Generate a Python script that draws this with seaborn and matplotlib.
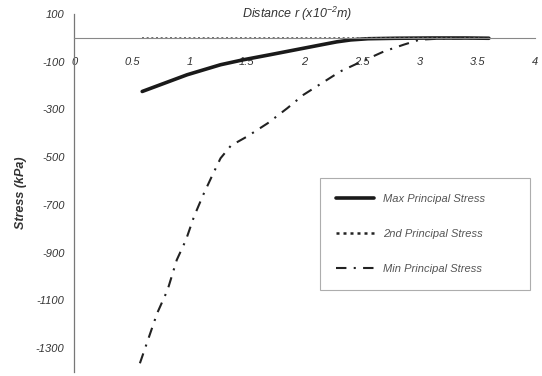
import matplotlib
matplotlib.use("Agg")
import matplotlib.pyplot as plt
import seaborn as sns
import pandas as pd

# distance r (x10^-2 m) and stresses
max_r = [0.59, 0.98, 1.27, 1.47, 1.70, 2.00, 2.15, 2.28, 2.40, 2.55, 2.80, 3.10, 3.40, 3.60]
max_stress = [-225, -155, -113, -92, -71, -43, -29, -17, -9, -4, -2, -1, -1, -2]

second_r = [0.59, 1.00, 1.50, 2.00, 2.50, 3.00, 3.60]
second_stress = [0, 0, 0, 0, 0, 0, 0]

min_r = [0.57, 0.65, 0.72, 0.81, 0.89, 0.97, 1.04, 1.12, 1.20, 1.27, 1.36, 1.50,
         1.68, 1.85, 1.99, 2.15, 2.31, 2.47, 2.69, 2.86, 3.00, 3.20, 3.40, 3.60]
min_stress = [-1364, -1252, -1154, -1057, -931, -847, -749, -658, -575, -505, -452, -414,
              -358, -295, -239, -190, -141, -105, -57, -29, -8, -3, -2, -2]

y_ticks = [100, -100, -300, -500, -700, -900, -1100, -1300]
x_ticks = [0, 0.5, 1, 1.5, 2, 2.5, 3, 3.5, 4]
x_tick_labels = ["0", "0.5", "1", "1.5", "2", "2.5", "3", "3.5", "4"]

sns.set_style("white")
plt.rcParams['font.family'] = ['Liberation Sans', 'DejaVu Sans']
plt.rcParams['font.style'] = 'italic'
plt.rcParams['axes.unicode_minus'] = False
plt.rcParams['mathtext.fontset'] = 'custom'
plt.rcParams['mathtext.it'] = 'Liberation Sans:italic'
plt.rcParams['mathtext.rm'] = 'Liberation Sans:italic'
plt.rcParams['mathtext.default'] = 'it'

fig = plt.figure(figsize=(5.42, 3.76), dpi=100)
ax = fig.add_axes([0.137, 0.011, 0.850, 0.952])

df_max = pd.DataFrame({'r': max_r, 'stress': max_stress})
df_2nd = pd.DataFrame({'r': second_r, 'stress': second_stress})
df_min = pd.DataFrame({'r': min_r, 'stress': min_stress})

sns.lineplot(data=df_max, x='r', y='stress', ax=ax, color='#1a1a1a', lw=2.6,
             label='Max Principal Stress', sort=False)
sns.lineplot(data=df_2nd, x='r', y='stress', ax=ax, color='#555555', lw=1.2,
             linestyle=(0, (1.2, 1.6)), label='2nd Principal Stress', sort=False)
sns.lineplot(data=df_min, x='r', y='stress', ax=ax, color='#222222', lw=1.5,
             linestyle=(0, (5, 3.5, 1, 3.5)), label='Min Principal Stress', sort=False)

ax.set_xlim(0, 4)
ax.set_ylim(-1400, 100)
ax.set_xticks(x_ticks)
ax.set_xticklabels(x_tick_labels)
ax.set_yticks(y_ticks)

for s in ['top', 'right']:
    ax.spines[s].set_visible(False)
ax.spines['bottom'].set_position(('data', 0))
ax.spines['bottom'].set_color('#888888')
ax.spines['bottom'].set_linewidth(0.8)
ax.spines['bottom'].set_linestyle((0, (2, 1)))
ax.spines['left'].set_color('#777777')
ax.spines['left'].set_linewidth(0.9)

ax.tick_params(axis='both', which='both', direction='out', length=3, width=0.7,
               color='#666666', labelsize=8, labelcolor='#333333')
ax.tick_params(axis='x', pad=11)
ax.tick_params(axis='y', pad=4)
for lab in ax.get_xticklabels() + ax.get_yticklabels():
    lab.set_fontstyle('italic')

ax.set_xlabel('')
ax.set_ylabel('Stress (kPa)', fontsize=9, fontweight='semibold', fontstyle='italic',
              color='#333333', labelpad=6)
fig.text(0.548, 0.962, 'Distance r (x10$^{-2}$m)', fontsize=9, fontstyle='italic',
         color='#333333', ha='center', va='center')

leg = ax.legend(loc='lower left', bbox_to_anchor=(0.534, 0.229, 0.455, 0.313),
                mode='expand', frameon=True, fancybox=False, fontsize=8,
                handlelength=3.4, labelspacing=2.25, borderpad=1.45,
                handletextpad=0.8, borderaxespad=0)
leg.get_frame().set_edgecolor('#999999')
leg.get_frame().set_linewidth(0.8)
# the dotted key in the legend is drawn heavier than the line at zero
leg.legend_handles[1].set_color('#222222')
leg.legend_handles[1].set_linewidth(1.8)
for t in leg.get_texts():
    t.set_color('#555555')
    t.set_fontstyle('italic')

fig.savefig('out.png', dpi=100)
